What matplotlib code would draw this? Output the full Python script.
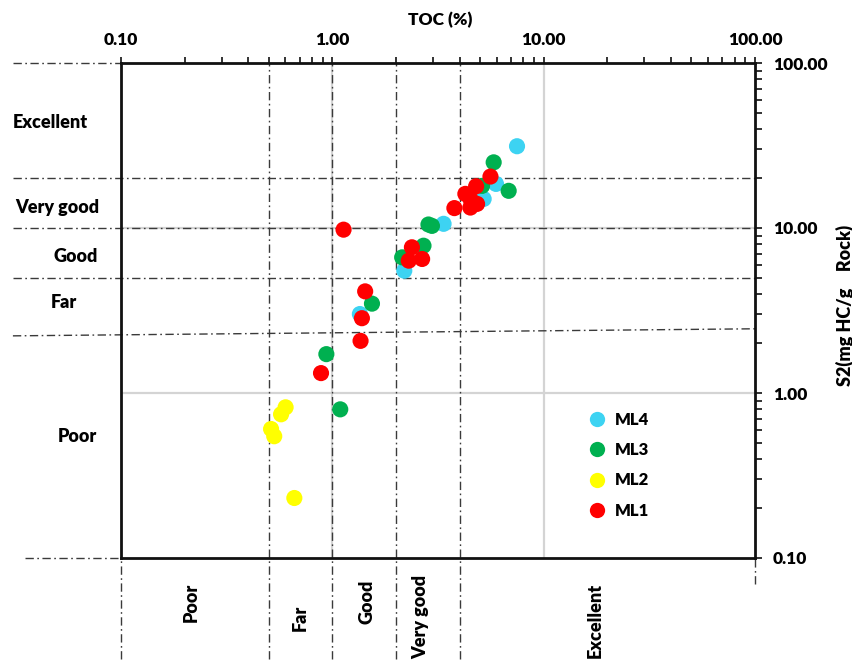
import matplotlib
matplotlib.use("Agg")
import matplotlib.pyplot as plt
from matplotlib.ticker import FixedLocator, FormatStrFormatter, LogLocator, NullFormatter
from matplotlib.lines import Line2D

plt.rcParams['font.family'] = ['Lato', 'DejaVu Sans']
plt.rcParams['font.weight'] = 'heavy'
FW = 'heavy'

# ---- data (TOC %, S2 mg HC/g rock) ----
ml4_toc = [7.48, 5.95, 5.20, 3.36, 2.19, 1.35]
ml4_s2 = [31.3, 18.5, 15.0, 10.6, 5.51, 3.01]

ml3_toc = [5.80, 6.83, 5.11, 2.96, 2.85, 2.70, 2.14, 1.54, 0.937, 1.09]
ml3_s2 = [25.0, 16.8, 18.0, 10.3, 10.5, 7.81, 6.64, 3.48, 1.72, 0.796]

ml2_toc = [0.601, 0.572, 0.513, 0.531, 0.661]
ml2_s2 = [0.819, 0.743, 0.605, 0.547, 0.231]

ml1_toc = [5.60, 4.79, 4.26, 4.50, 4.84, 4.50, 3.78, 1.13, 2.38, 2.66, 2.30, 1.43, 1.38, 1.36, 0.884]
ml1_s2 = [20.5, 17.9, 16.1, 15.0, 14.0, 13.3, 13.2, 9.77, 7.64, 6.49, 6.34, 4.13, 2.84, 2.07, 1.32]

series_names = ['ML4', 'ML3', 'ML2', 'ML1']
series_colors = ['#3dd3f2', '#00b050', '#ffff00', '#ff0000']

# classification boundaries
toc_bounds = [0.5, 1.0, 2.0, 4.0]
s2_bounds = [20, 10, 5]
toc_classes = ['Poor', 'Far', 'Good', 'Very good', 'Excellent']
s2_classes = ['Excellent', 'Very good', 'Good', 'Far', 'Poor']

major_ticks = [0.1, 1, 10, 100]

W, H = 853, 664
fig = plt.figure(figsize=(W / 100, H / 100), dpi=100)
L, R, T, B = 121, 755, 63, 558
ax = fig.add_axes([L / W, 1 - B / H, (R - L) / W, (B - T) / H])
ax.set_xscale('log')
ax.set_yscale('log')
ax.set_xlim(0.1, 100)
ax.set_ylim(0.1, 100)

# light grey gridlines at decades
for v in major_ticks[1:-1]:
    ax.axvline(v, color='#d4d4d4', lw=1.6, zorder=0.5)
    ax.axhline(v, color='#d4d4d4', lw=1.6, zorder=0.5)

dd = dict(color='#3a3a3a', lw=1.0, dashes=(6, 2.5, 1.2, 2.5), clip_on=False, zorder=1)
x_left = 0.0308
y_bot = 0.0244
# vertical boundaries
for v in toc_bounds:
    ax.add_line(Line2D([v, v], [y_bot, 100], **dd))
ax.add_line(Line2D([0.1, 0.1], [y_bot, 0.1], **dd))
ax.add_line(Line2D([100, 100], [0.07, 0.1], **dd))
# horizontal boundaries
for v in s2_bounds:
    ax.add_line(Line2D([x_left, 100], [v, v], **dd))
ax.add_line(Line2D([x_left, 0.1], [100, 100], **dd))
ax.add_line(Line2D([0.035, 0.1], [0.1, 0.1], **dd))
ax.add_line(Line2D([x_left, 100], [2.22, 2.45], **dd))

# data
all_x = [ml4_toc, ml3_toc, ml2_toc, ml1_toc]
all_y = [ml4_s2, ml3_s2, ml2_s2, ml1_s2]
for xs, ys, name, c in zip(all_x, all_y, series_names, series_colors):
    ax.scatter(xs, ys, s=135, color=c, edgecolors='none', label=name, zorder=3)

# axes styling
for side in ['left', 'bottom', 'top', 'right']:
    ax.spines[side].set_linewidth(2.0)
    ax.spines[side].set_color('#111111')
    ax.spines[side].set_zorder(4)

ax.xaxis.set_major_locator(FixedLocator(major_ticks))
ax.yaxis.set_major_locator(FixedLocator(major_ticks))
ax.xaxis.set_minor_locator(LogLocator(base=10, subs=range(2, 10)))
ax.yaxis.set_minor_locator(LogLocator(base=10, subs=range(2, 10)))
ax.xaxis.set_major_formatter(FormatStrFormatter('%.2f'))
ax.yaxis.set_major_formatter(FormatStrFormatter('%.2f'))
ax.xaxis.set_minor_formatter(NullFormatter())
ax.yaxis.set_minor_formatter(NullFormatter())
ax.tick_params(axis='x', which='both', top=True, bottom=False, labeltop=True, labelbottom=False,
               direction='out', width=1.2, color='#111111')
ax.tick_params(axis='y', which='both', right=True, left=False, labelright=True, labelleft=False,
               direction='out', width=1.2, color='#111111')
ax.tick_params(axis='x', which='major', length=4, pad=7, labelsize=12.5)
ax.tick_params(axis='x', which='minor', length=4)
ax.tick_params(axis='y', which='major', length=5, pad=8, labelsize=12.5)
ax.tick_params(axis='y', which='minor', length=5)
for lab in ax.get_xticklabels() + ax.get_yticklabels():
    lab.set_fontweight(FW)

# titles
fig.text(440 / W, 1 - 20 / H, 'TOC (%)', ha='center', va='center', fontsize=12.5, fontweight=FW)
fig.text(845 / W, 1 - 305 / H, 'S2(mg HC/g    Rock)', ha='center', va='center', rotation=90,
         fontsize=13, fontweight=FW)

# class labels on left
left_pos = [(50, 122), (57, 207), (76, 256), (64, 302), (77, 437)]
for (px, py), t in zip(left_pos, s2_classes):
    fig.text(px / W, 1 - py / H, t, ha='center', va='center', fontsize=13, fontweight=FW)

# class labels at bottom
bot_pos = [(191, 602), (300, 618), (367, 602), (421, 617), (595, 620)]
for (px, py), t in zip(bot_pos, toc_classes):
    fig.text(px / W, 1 - py / H, t, ha='center', va='center', rotation=90, fontsize=13, fontweight=FW)

# legend
handles = [Line2D([], [], marker='o', linestyle='none', markersize=11, markerfacecolor=c,
                  markeredgecolor='none') for c in series_colors]
leg = fig.legend(handles, series_names, loc='upper left', bbox_to_anchor=(587 / W, 1 - 412 / H),
                 frameon=False, fontsize=12, labelspacing=0.85, handletextpad=0.45,
                 handlelength=1.2, borderaxespad=0, borderpad=0)
for t in leg.get_texts():
    t.set_fontweight(FW)

fig.savefig('out.png', dpi=100, facecolor='white')
